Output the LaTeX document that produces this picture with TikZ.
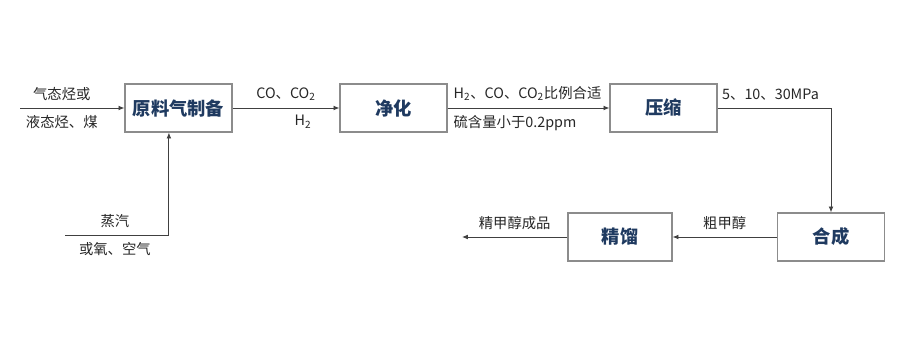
\documentclass[tikz,border=0pt]{standalone}
\usepackage{fontspec}
\setmainfont{Noto Sans CJK SC}
\usepackage{xcolor}
\usetikzlibrary{arrows.meta}
\usetikzlibrary{positioning}
\definecolor{boxtext}{HTML}{1F3A60}
\definecolor{boxline}{HTML}{8C8C8C}
\definecolor{flowline}{HTML}{404040}
\definecolor{labeltext}{HTML}{262626}
\tikzset{
  stepbox/.style={draw=boxline, line width=0.8pt, minimum width=2.675cm, minimum height=1.2cm, inner sep=0pt,
    text=boxtext, font=\fontsize{13}{15}\selectfont\bfseries},
  flow/.style={draw=flowline, line width=0.6pt, -{Latex[length=4.2pt,width=3.4pt]}},
  lbl/.style={text=labeltext, font=\fontsize{10.2}{12}\selectfont, inner sep=2pt}
}

\begin{document}
\begin{tikzpicture}[x=0.025cm, y=-0.025cm]
        \useasboundingbox (0,0) rectangle (900,347);
        \node[stepbox] (prep) at (178.5,108) {原料气制备};
        \node[stepbox] (purify) at (393.5,108) {净化};
        \node[stepbox] (compress) at (663.5,108) {压缩};
        \node[stepbox] (synth) at (831,237) {合成};
        \node[stepbox, minimum width=2.6cm] (distill) at (620,237) {精馏};
        \coordinate (gasin) at (20,108);
        \coordinate (steam) at (65,235);
        \coordinate (product) at (462,237);
        \draw[flow] (gasin) -- (prep)
            node[lbl, pos=0.4, above=3pt] {气态烃或}
            node[lbl, pos=0.4, below=3pt] {液态烃、煤};
        \draw[flow] (steam) -| ([xshift=-0.24cm]prep.south)
            node[lbl, pos=0.24, above=3pt] {蒸汽}
            node[lbl, pos=0.24, below=3pt] {或氧、空气};
        \draw[flow] (prep) -- (purify)
            node[lbl, midway, above=3pt] {CO、CO\textsubscript{2}}
            node[lbl, pos=0.66, below=3pt] {H\textsubscript{2}};
        \draw[flow] (purify) -- (compress)
            node[lbl, pos=0, above right=3pt and 2pt] {H\textsubscript{2}、CO、CO\textsubscript{2}比例合适}
            node[lbl, pos=0, below right=3pt and 2pt] {硫含量小于0.2ppm};
        \draw[flow] (compress.east) -| (synth.north)
            node[lbl, pos=0, above right=3pt and 1pt] {5、10、30MPa};
        \draw[flow] (synth) -- (distill)
            node[lbl, midway, above=3pt] {粗甲醇};
        \draw[flow] (distill) -- (product)
            node[lbl, midway, above=3pt] {精甲醇成品};
    \end{tikzpicture}
\end{document}
